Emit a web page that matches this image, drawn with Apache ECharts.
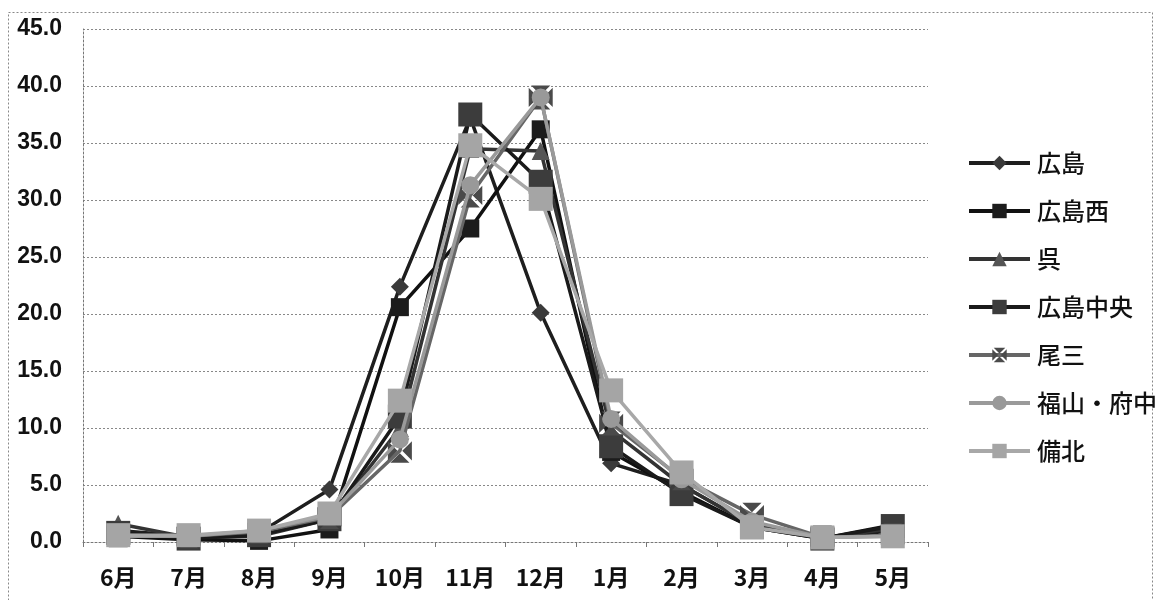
<!DOCTYPE html>
<html><head><meta charset="utf-8">
<script src="https://cdn.jsdelivr.net/npm/echarts@6/dist/echarts.min.js"></script>
<style>html,body{margin:0;padding:0;background:#fff}#c{width:1156px;height:600px}</style>
</head><body><div id="c"></div>
<script>
const categories = ['6月','7月','8月','9月','10月','11月','12月','1月','2月','3月','4月','5月'];
const hiroshima   = [1.0, 0.5, 0.8, 4.6, 22.4, 37.2, 20.1, 6.9, 5.0, 1.5, 0.3, 1.0];
const hiroshimaW  = [0.5, 0.2, 0.1, 1.1, 20.6, 27.5, 36.2, 7.9, 4.4, 1.3, 0.3, 1.5];
const kure        = [1.6, 0.4, 0.5, 2.0, 10.0, 34.5, 34.3, 9.8, 5.0, 1.5, 0.3, 1.2];
const hiroshimaC  = [0.8, 0.3, 0.6, 2.0, 11.0, 37.5, 31.6, 8.4, 4.2, 1.3, 0.3, 1.4];
const bisan       = [0.6, 0.5, 0.9, 2.2, 8.0, 30.4, 39.0, 10.4, 5.6, 2.4, 0.4, 0.6];
const fukuyama    = [0.5, 0.5, 1.0, 2.3, 9.0, 31.3, 39.0, 10.8, 5.5, 1.8, 0.4, 0.5];
const bihoku      = [0.6, 0.6, 1.0, 2.5, 12.4, 34.8, 30.1, 13.3, 6.1, 1.3, 0.4, 0.5];
const yTicks = [0, 5, 10, 15, 20, 25, 30, 35, 40, 45];

const xSym = 'path://M1,0 L9,0 L5,4 Z M10,1 L10,9 L6,5 Z M9,10 L1,10 L5,6 Z M0,9 L0,1 L4,5 Z';

function s(name, data, lineColor, symbol, size, fill, z) {
  return {
    name, type: 'line', data, symbol, symbolSize: size, z,
    lineStyle: { color: lineColor, width: 3.5 },
    itemStyle: { color: fill, borderColor: fill, borderWidth: 0 },
    emphasis: { disabled: true }, animation: false
  };
}

const chart = echarts.init(document.getElementById('c'));
chart.setOption({
  animation: false,
  backgroundColor: '#fff',
  graphic: [{ type: 'rect', shape: { x: 8.5, y: 12.5, width: 1144, height: 600 },
    style: { fill: 'none', stroke: '#888', lineWidth: 1, lineDash: [2, 2] }, silent: true, z: -10 }],
  grid: { left: 83, right: 228, top: 29, bottom: 58 },
  legend: {
    orient: 'vertical', left: 962, top: 146,
    itemWidth: 61, itemHeight: 18, itemGap: 24,
    lineStyle: { width: 4 },
    textStyle: { fontSize: 24, color: '#111', fontFamily: 'Noto Sans CJK JP', fontWeight: 500, padding: [0, 0, 0, 2] },
    data: ['広島','広島西','呉','広島中央','尾三','福山・府中','備北']
  },
  xAxis: {
    type: 'category', data: categories, boundaryGap: true,
    axisLine: { lineStyle: { color: '#777', type: [2, 2] } },
    axisTick: { show: true, length: 5, lineStyle: { color: '#777' } },
    axisLabel: { fontSize: 23, color: '#111', fontWeight: 'bold', fontFamily: 'Noto Sans CJK JP', margin: 24 }
  },
  yAxis: {
    type: 'value', min: 0, max: 45, interval: 5,
    axisLine: { show: true, lineStyle: { color: '#777', type: [2, 2] } },
    axisTick: { show: false },
    splitLine: { lineStyle: { color: '#888', type: [2, 2] } },
    axisLabel: { fontSize: 23, color: '#111', fontFamily: 'Liberation Sans', fontWeight: 'bold', margin: 21,
      formatter: v => yTicks.includes(v) ? v.toFixed(1) : '' }
  },
  series: [
    s('広島', hiroshima, '#1e1e1e', 'diamond', 18, '#3a3a3a', 2),
    s('広島西', hiroshimaW, '#111', 'rect', 18, '#1c1c1c', 3),
    s('呉', kure, '#333', 'triangle', 18, '#555', 4),
    s('広島中央', hiroshimaC, '#1a1a1a', 'rect', 24, '#3c3c3c', 5),
    s('尾三', bisan, '#666', xSym, 24, '#4a4a4a', 6),
    s('福山・府中', fukuyama, '#9a9a9a', 'circle', 18, '#999', 7),
    s('備北', bihoku, '#a8a8a8', 'rect', 24, '#a5a5a5', 8)
  ]
});
</script></body></html>
